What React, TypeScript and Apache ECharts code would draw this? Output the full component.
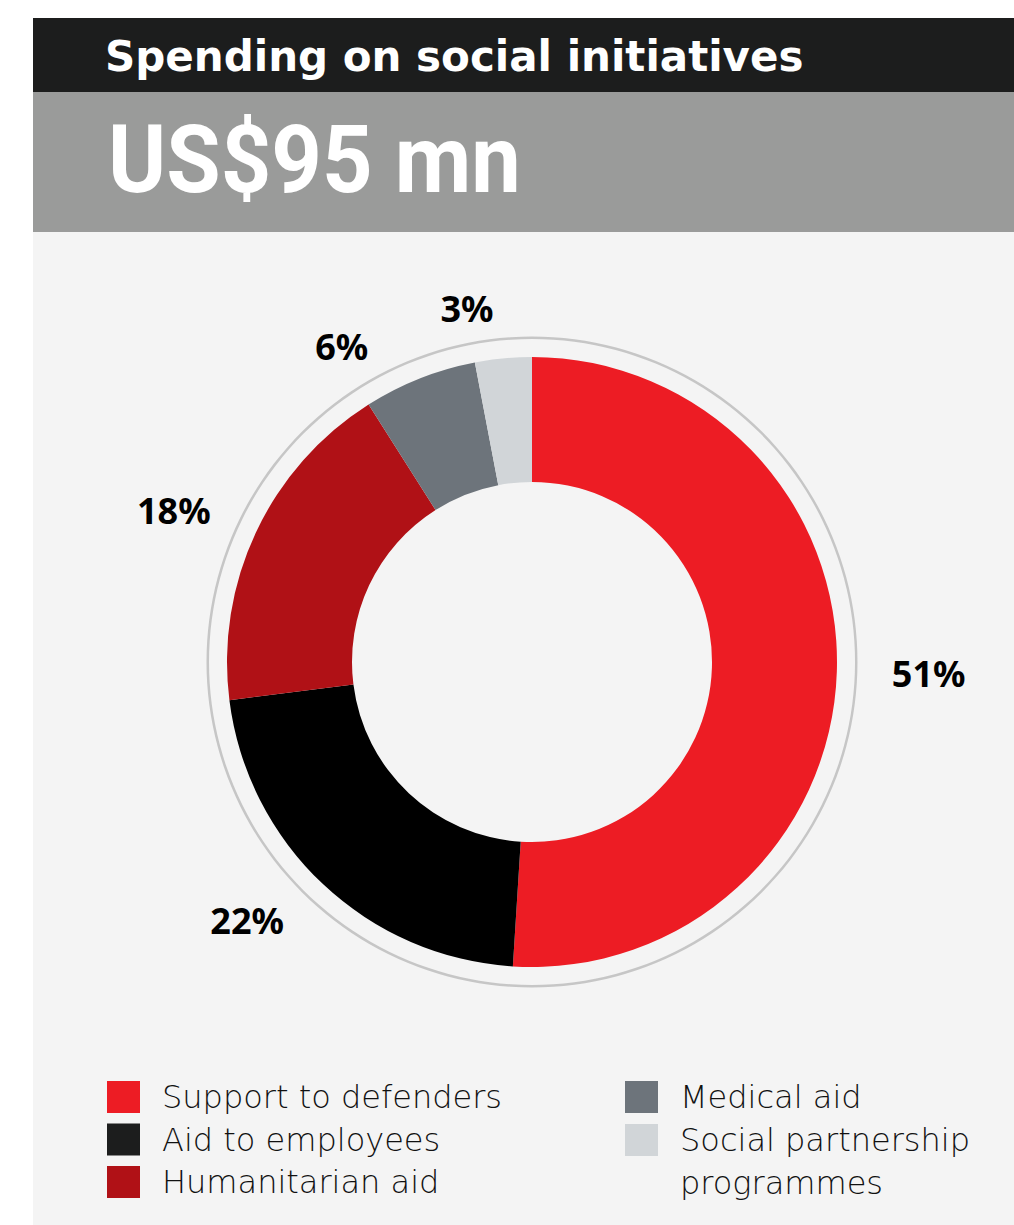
import React, { useEffect, useRef } from "react";
import * as echarts from "echarts";

const categories = [
  "Support to defenders",
  "Aid to employees",
  "Humanitarian aid",
  "Medical aid",
  "Social partnership programmes",
];
const shares = [51, 22, 18, 6, 3];
const sliceColors = ["#ed1c24", "#000000", "#b01116", "#6d747b", "#d1d5d8"];
const legendColors = ["#ed1c24", "#1c1d1d", "#b01116", "#6d747b", "#d1d5d8"];
const titleText = "Spending on social initiatives";
const totalText = "US$95 mn";
const legendCol1 = [0, 1, 2];
const legendCol2a = [3];
const legendCol2b = [4];

// square icon for a two-line legend item: the square sits level with the first line
const tallSquareIcon = "path://M0 5.5h33v32h-33z M0 0h0.01v0.01h-0.01z M0 85.99h0.01v0.01h-0.01z";

export default function App() {
  const ref = useRef<HTMLDivElement>(null);
  useEffect(() => {
    if (!ref.current) return;
    const chart = echarts.init(ref.current, null, { renderer: "svg" });
    const data = categories.map((name, i) => ({
      name,
      value: shares[i],
      itemStyle: { color: sliceColors[i] },
    }));
    const legendText = {
      fontFamily: "DejaVu Sans",
      fontWeight: 200,
      fontSize: 32,
      lineHeight: 32,
      color: "#111111",
      padding: [0, 0, 0, 17],
    };
    const wrapName = (n: string) =>
      n === "Social partnership programmes" ? "Social partnership\nprogrammes" : n;
    const mkLegend = (
      idx: number[],
      left: number,
      top: number,
      text: any,
      icon: string,
      itemHeight: number
    ) => ({
      orient: "vertical",
      left,
      top,
      height: 400,
      padding: 0,
      itemWidth: 33,
      itemHeight,
      itemGap: 10.5,
      icon,
      selectedMode: false,
      textStyle: text,
      formatter: wrapName,
      data: idx.map((i) => ({
        name: categories[i],
        itemStyle: { color: legendColors[i] },
      })),
    });
    chart.setOption({
      animation: false,
      graphic: [
        { type: "rect", z: -10, shape: { x: 33, y: 18, width: 981, height: 74 }, style: { fill: "#1c1d1d" } },
        { type: "rect", z: -10, shape: { x: 33, y: 92, width: 981, height: 140 }, style: { fill: "#9a9b9a" } },
        { type: "rect", z: -10, shape: { x: 33, y: 232, width: 981, height: 993 }, style: { fill: "#f4f4f4" } },
        {
          type: "text",
          x: 105,
          y: 56,
          style: {
            text: titleText,
            fill: "#ffffff",
            fontFamily: "DejaVu Sans",
            fontWeight: 700,
            fontSize: 42,
            verticalAlign: "middle",
          },
        },
        {
          type: "text",
          x: 108,
          y: 160,
          scaleX: 0.94,
          style: {
            text: totalText,
            fill: "#ffffff",
            fontFamily: "Roboto",
            fontWeight: 700,
            fontSize: 94,
            verticalAlign: "middle",
          },
        },
      ],
      legend: [
        mkLegend(legendCol1, 107, 1081, legendText, "rect", 32),
        mkLegend(legendCol2a, 625, 1081, legendText, "rect", 32),
        mkLegend(
          legendCol2b,
          625,
          1118.5,
          { ...legendText, lineHeight: 43 },
          tallSquareIcon,
          86
        ),
      ],
      series: [
        {
          type: "pie",
          center: [532, 662],
          radius: [180, 305],
          startAngle: 90,
          clockwise: true,
          silent: true,
          avoidLabelOverlap: true,
          label: {
            show: true,
            position: "outside",
            formatter: "{c}%",
            color: "#000000",
            fontFamily: "Noto Sans",
            fontWeight: 700,
            fontSize: 36,
            distanceToLabelLine: 5,
          },
          labelLine: { show: false, length: 50, length2: 0 },
          data,
        },
        {
          type: "pie",
          center: [532, 662],
          radius: [323, 325.5],
          silent: true,
          label: { show: false },
          labelLine: { show: false },
          itemStyle: { color: "#c6c6c6" },
          data: [{ name: "ring", value: 1 }],
        },
      ],
    });
    return () => chart.dispose();
  }, []);
  return (
    <div
      ref={ref}
      style={{ position: "absolute", left: 0, top: 0, width: 1014, height: 1225, background: "#ffffff" }}
    />
  );
}
